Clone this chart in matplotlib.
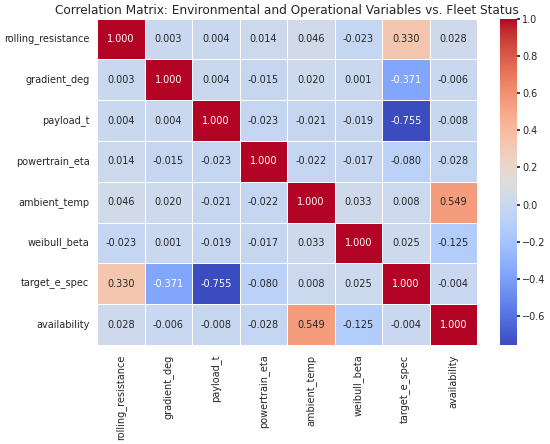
import matplotlib
matplotlib.use("Agg")
import matplotlib.pyplot as plt
import seaborn as sns
import numpy as np
import pandas as pd

sns.set_theme(style="white")
plt.rcParams['font.family'] = ['DejaVu Sans']

variables = ['rolling_resistance', 'gradient_deg', 'payload_t', 'powertrain_eta',
             'ambient_temp', 'weibull_beta', 'target_e_spec', 'availability']

# matriz de correlacion
corr_rows = [
    [1.000, 0.003, 0.004, 0.014, 0.046, -0.023, 0.330, 0.028],
    [0.003, 1.000, 0.004, -0.015, 0.020, 0.001, -0.371, -0.006],
    [0.004, 0.004, 1.000, -0.023, -0.021, -0.019, -0.755, -0.008],
    [0.014, -0.015, -0.023, 1.000, -0.022, -0.017, -0.080, -0.028],
    [0.046, 0.020, -0.021, -0.022, 1.000, 0.033, 0.008, 0.549],
    [-0.023, 0.001, -0.019, -0.017, 0.033, 1.000, 0.025, -0.125],
    [0.330, -0.371, -0.755, -0.080, 0.008, 0.025, 1.000, -0.004],
    [0.028, -0.006, -0.008, -0.028, 0.549, -0.125, -0.004, 1.000],
]
corr = pd.DataFrame(np.array(corr_rows), index=variables, columns=variables)

fig = plt.figure(figsize=(5.5, 4.44), dpi=100)
ax = fig.add_axes([0.1764, 0.223, 0.691, 0.735])
cax = fig.add_axes([0.909, 0.223, 0.031, 0.735])

sns.heatmap(corr, annot=True, fmt='.3f', cmap='coolwarm', linewidths=0.7,
            linecolor='white', ax=ax, cbar_ax=cax, annot_kws={'size': 7})

ax.set_title('Correlation Matrix: Environmental and Operational Variables vs. Fleet Status',
             fontsize=8.75, pad=3)
ax.tick_params(axis='x', labelsize=7, rotation=90, length=0, pad=7)
ax.tick_params(axis='y', labelsize=7, rotation=0, length=0, pad=5.5)
cax.tick_params(labelsize=7, length=2.2, pad=1.5)

fig.savefig('out.png', dpi=100)
